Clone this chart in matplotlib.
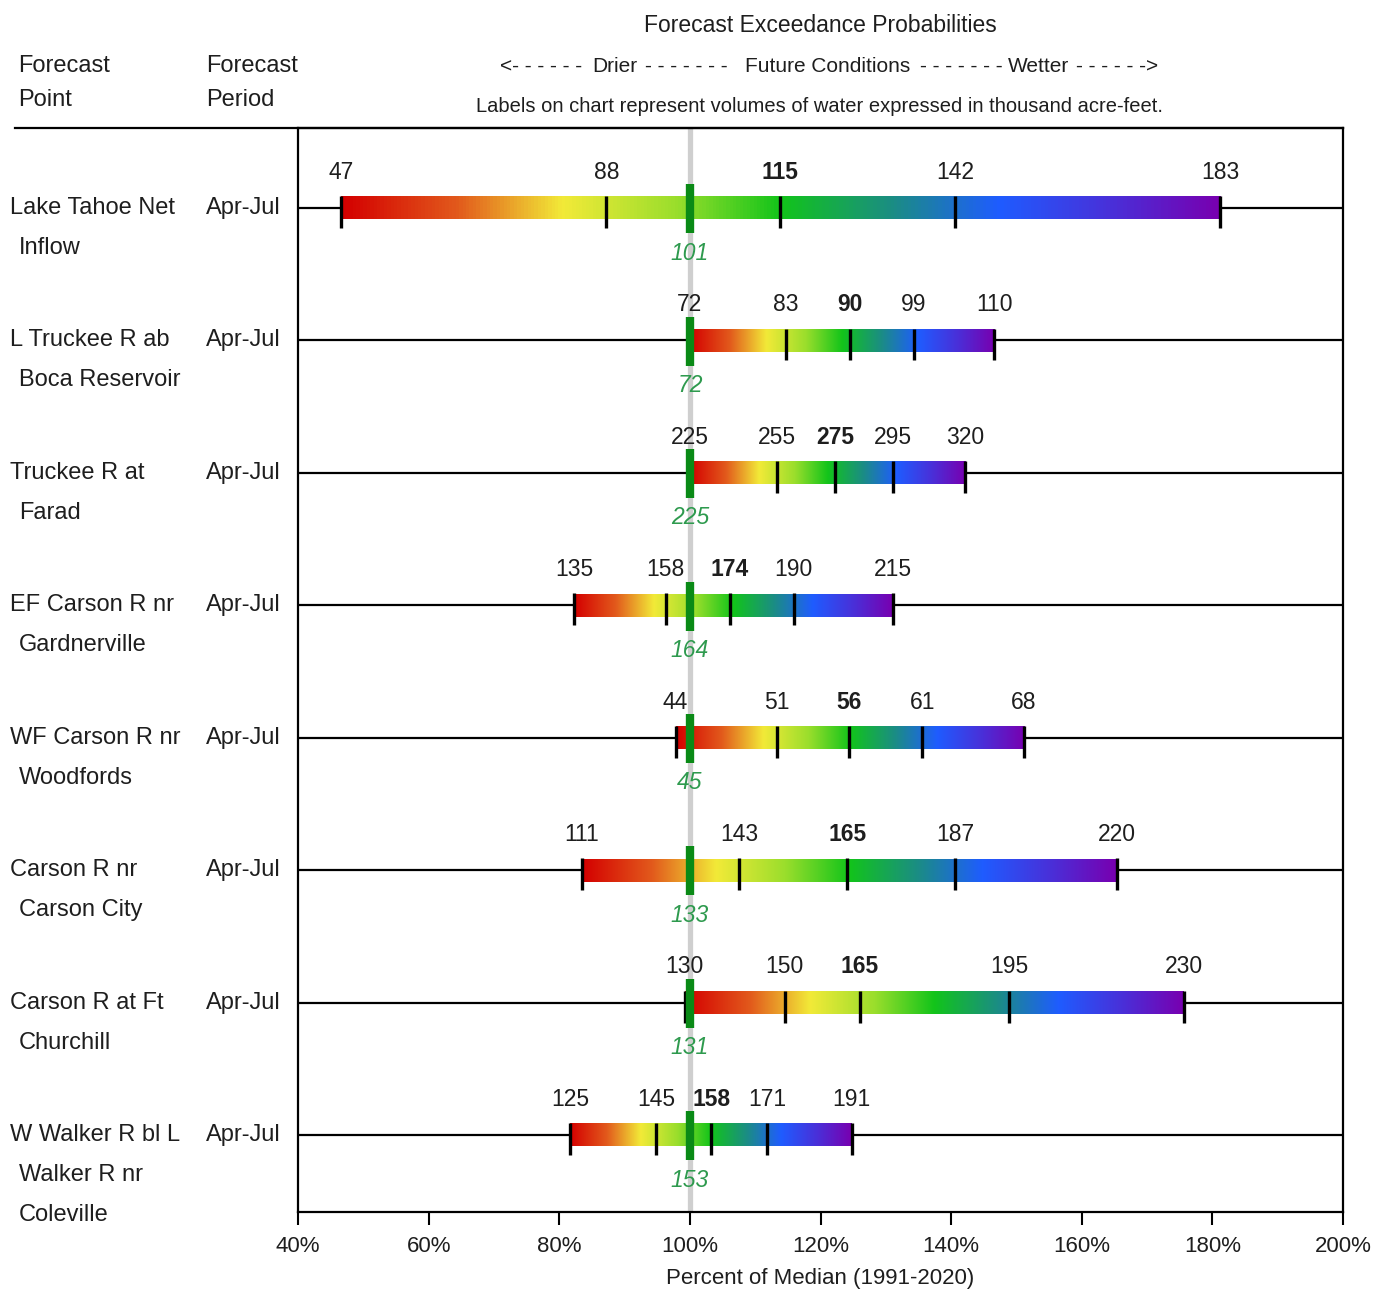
import matplotlib.pyplot as plt
import matplotlib.transforms as mtransforms
from matplotlib.colors import LinearSegmentedColormap
from matplotlib.lines import Line2D
import numpy as np

plt.rcParams['font.family'] = ['Liberation Sans', 'DejaVu Sans']

# Forecast points (one entry per text line) and periods
points = [["Lake Tahoe Net", "Inflow"],
          ["L Truckee R ab", "Boca Reservoir"],
          ["Truckee R at", "Farad"],
          ["EF Carson R nr", "Gardnerville"],
          ["WF Carson R nr", "Woodfords"],
          ["Carson R nr", "Carson City"],
          ["Carson R at Ft", "Churchill"],
          ["W Walker R bl L", "Walker R nr", "Coleville"]]
periods = ["Apr-Jul"] * 8

# 90/70/50/30/10 % exceedance volumes (kaf) and the medians
volumes = [[47, 88, 115, 142, 183],
           [72, 83, 90, 99, 110],
           [225, 255, 275, 295, 320],
           [135, 158, 174, 190, 215],
           [44, 51, 56, 61, 68],
           [111, 143, 165, 187, 220],
           [130, 150, 165, 195, 230],
           [125, 145, 158, 171, 191]]
medians = [101, 72, 225, 164, 45, 133, 131, 153]

# position of each volume, percent of median
pct_of_median = [[46.6, 87.2, 113.8, 140.6, 181.2],
                 [100.0, 114.7, 124.5, 134.3, 146.6],
                 [100.0, 113.3, 122.2, 131.1, 142.2],
                 [82.3, 96.3, 106.1, 115.9, 131.1],
                 [97.8, 113.3, 124.4, 135.6, 151.1],
                 [83.5, 107.5, 124.1, 140.6, 165.4],
                 [99.2, 114.5, 126.0, 148.9, 175.6],
                 [81.7, 94.8, 103.3, 111.8, 124.8]]

xticks = [40, 60, 80, 100, 120, 140, 160, 180, 200]

W, H = 1373, 1290
TXT = '#1e1e1e'
fig = plt.figure(figsize=(W / 100, H / 100), dpi=100)
ax = fig.add_axes([298 / W, 1 - 1212 / H, (1343 - 298) / W, (1212 - 128) / H])

rainbow = LinearSegmentedColormap.from_list('fcst', [
    (0.0, '#d40000'), (0.13, '#e25a1c'), (0.25, '#f2ea38'),
    (0.38, '#9ade2c'), (0.5, '#12c41a'), (0.63, '#1b8c86'),
    (0.75, '#1f5cff'), (0.88, '#4a2fd8'), (1.0, '#7800b0')])
grad = np.linspace(0, 1, 256).reshape(1, -1)

ax.axvline(100, color='#cfcfcf', lw=3.8, zorder=1)

bar_h = 0.17
green = '#0a8a16'
for i, (pcts, vols) in enumerate(zip(pct_of_median, volumes)):
    ax.plot([40, 200], [i, i], color='black', lw=1.6, zorder=2)
    ax.imshow(grad, cmap=rainbow, aspect='auto', interpolation='bilinear',
              extent=(pcts[0], pcts[-1], i + bar_h / 2, i - bar_h / 2), zorder=3)
    ax.vlines(pcts, i - 0.09, i + 0.15, color='black', lw=2.4, zorder=4)
    ax.vlines(100, i - 0.18, i + 0.19, color=green, lw=6, zorder=5)
    for j, (p, v) in enumerate(zip(pcts, vols)):
        ax.text(p, i - 0.27, str(v), ha='center', va='center', fontsize=16.5,
                fontweight='bold' if j == 2 else 'normal', color=TXT)
    ax.text(100, i + 0.34, str(medians[i]), ha='center', va='center',
            fontsize=16.5, style='italic', color='#2e9a4e')

ax.set_xlim(40, 200)
ax.set_ylim(len(points) - 1 + 0.58, -0.604)
ax.set_xticks(xticks)
ax.set_xticklabels([f'{t}%' for t in xticks], fontsize=16, color=TXT)
ax.set_yticks([])
ax.tick_params(axis='x', length=9, width=1.5, pad=8)
for s in ax.spines.values():
    s.set_linewidth(1.6)
ax.set_xlabel('Percent of Median (1991-2020)', fontsize=16, labelpad=8, color=TXT)

# left hand columns
trans = mtransforms.blended_transform_factory(fig.transFigure, ax.transData)
for i, lines in enumerate(points):
    for k, line in enumerate(lines):
        x = 10 if k == 0 else 19
        ax.text(x / W, i + k * 0.302, line, transform=trans, ha='left',
                va='center', fontsize=17, color=TXT)
    ax.text(206 / W, i, periods[i], transform=trans, ha='left', va='center',
            fontsize=17, color=TXT)

# header
fig.text(18 / W, 1 - 66 / H, 'Forecast', fontsize=17, va='center', color=TXT)
fig.text(18 / W, 1 - 100 / H, 'Point', fontsize=17, va='center', color=TXT)
fig.text(206 / W, 1 - 66 / H, 'Forecast', fontsize=17, va='center', color=TXT)
fig.text(206 / W, 1 - 100 / H, 'Period', fontsize=17, va='center', color=TXT)
fig.text(820 / W, 1 - 25 / H, 'Forecast Exceedance Probabilities', fontsize=16.5,
         ha='center', va='center', color=TXT)
arrow_parts = [("<- - - - - -", 500), ("Drier", 592), ("- - - - - - -", 645),
               ("Future Conditions", 745), ("- - - - - - -", 920),
               ("Wetter", 1008), ("- - - - - ->", 1076)]
for s, xp in arrow_parts:
    fig.text(xp / W, 1 - 67 / H, s, fontsize=15, ha='left', va='center', color=TXT)
fig.text(820 / W, 1 - 106 / H,
         'Labels on chart represent volumes of water expressed in thousand acre-feet.',
         fontsize=14.5, ha='center', va='center', color=TXT)
fig.add_artist(Line2D([15 / W, 1343 / W], [1 - 128 / H, 1 - 128 / H],
                      transform=fig.transFigure, color='black', lw=1.6))

fig.savefig('out.png', dpi=100)
